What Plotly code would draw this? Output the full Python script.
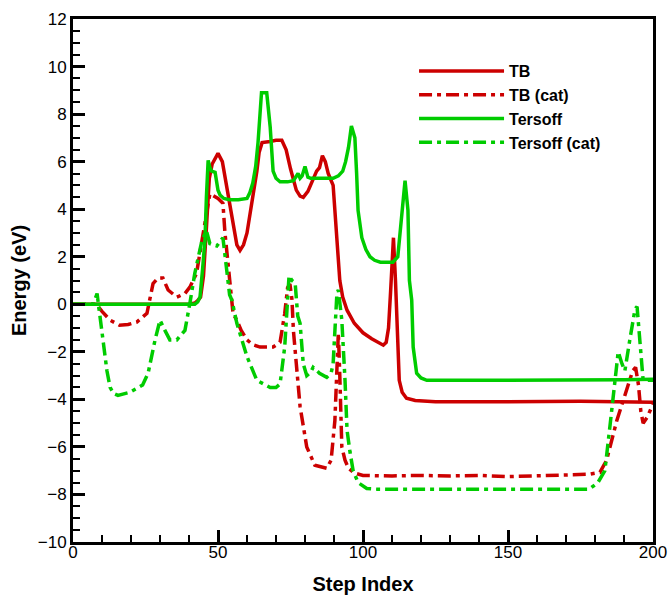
import plotly.graph_objects as go

# ---- data ----
tb_x = [0, 40, 42, 43, 44, 45, 46, 47, 48, 49, 50, 51.5, 53, 55.2, 56.5, 57.6, 58.8, 60, 61.7, 63.4, 64.2, 65.2,
        68, 70, 72, 73.5, 75, 77, 78.3, 79.4, 81, 82.5, 84, 85, 86, 87, 88, 89.7, 90.4, 91, 92, 93, 94.5, 97,
        100, 103, 105, 107, 108, 108.8, 109.5, 110.5, 111.2, 111.8, 112.5, 113.5, 115, 118, 125, 150, 175, 200]
tb_y = [0, 0, 0.05, 0.15, 0.3, 1.2, 3.2, 5.3, 5.9, 6.1, 6.35, 6.0, 4.9, 3.25, 2.5, 2.27, 2.5, 3.0, 4.25, 5.6, 6.4, 6.8,
        6.85, 6.9, 6.9, 6.5, 5.7, 4.8, 4.55, 4.5, 4.75, 5.2, 5.6, 5.75, 6.25, 6.0, 5.5, 5.0, 3.8, 2.4, 1.0, 0.3, -0.25, -0.8,
        -1.2, -1.45, -1.6, -1.72, -1.6, -1.0, 0.5, 2.8, 1.0, -1.5, -3.2, -3.7, -3.95, -4.05, -4.1, -4.1, -4.08, -4.12]

tbc_x = [0, 8, 10, 12.8, 16, 19, 22, 25.5, 27.6, 29.3, 31, 32.8, 35.8, 38.6, 40.3, 42.6, 44.5, 45.5, 47.2, 50, 51.7,
         52.4, 54, 55.2, 56.5, 58, 60, 62, 64.5, 69, 71.4, 73, 74, 74.8, 75.5, 76, 77, 78.3, 80.6, 83.4, 87.5, 89,
         90.3, 91, 91.5, 92, 92.7, 93.8, 95, 97, 100, 110, 120, 130, 140, 150, 160, 170, 178, 181.7, 184, 187.5,
         191, 193, 194, 195, 195.8, 196.6, 198, 199.5, 200]
tbc_y = [0, 0, -0.3, -0.67, -0.88, -0.85, -0.75, -0.38, 0.87, 1.1, 1.1, 0.6, 0.3, 0.45, 0.72, 1.3, 2.7, 3.5, 4.65, 4.45, 4.25,
         3.0, 1.15, -0.4, -0.67, -1.1, -1.5, -1.7, -1.8, -1.8, -1.6, -0.4, 0.7, 0.85, 0.2, -1.1, -2.5, -4.3, -6.0, -6.77, -6.9, -6.56,
         -4.9, -2.5, -1.2, -3.0, -6.0, -6.56, -6.9, -7.1, -7.2, -7.22, -7.2, -7.22, -7.2, -7.25, -7.22, -7.2, -7.15, -7.07, -6.56, -4.9,
         -3.6, -2.8, -2.65, -3.4, -4.5, -5.0, -4.75, -4.3, -4.2]

ts_x = [0, 42, 43, 43.8, 44.7, 45.5, 46, 46.6, 47.2, 47.8, 49, 50, 50.7, 52, 54, 57, 60, 61, 62, 63, 63.8, 64.5, 65,
        66.8, 67.5, 68, 69, 70, 71.4, 74, 76, 77.6, 78.3, 79, 80, 81, 82, 85, 88, 89.7, 91.5, 93, 94, 95, 96, 97.2,
        97.8, 98.3, 99.6, 101, 102.4, 104, 106, 108, 110.3, 112, 113.4, 114.5, 115.5, 116, 116.8, 117.3, 118.5, 120,
        122, 130, 150, 175, 190, 200]
ts_y = [0, 0, 0.1, 0.3, 1.5, 2.7, 4.5, 6.05, 5.75, 5.6, 5.55, 4.8, 4.6, 4.45, 4.4, 4.4, 4.45, 4.7, 5.1, 5.8, 6.8, 8.0, 8.9,
        8.9, 8.2, 7.45, 5.6, 5.3, 5.15, 5.15, 5.2, 5.5, 5.3, 5.4, 5.8, 5.35, 5.3, 5.3, 5.3, 5.3, 5.4, 5.6, 6.0, 6.6, 7.5, 7.0,
        5.5, 3.95, 2.8, 2.3, 2.0, 1.85, 1.77, 1.77, 1.77, 2.0, 3.9, 5.2, 3.95, 1.0, 0.17, -1.8, -2.9, -3.1,
        -3.2, -3.2, -3.2, -3.2, -3.18, -3.15]

tsc_x = [0, 7, 8.3, 9.3, 10.3, 11.7, 12.8, 14, 15.5, 19.6, 24, 25.9, 28.3, 30, 31.7, 33.4, 35.8, 38.6, 40.3, 42, 44.5,
         46, 47.2, 49.6, 51.7, 53, 54, 54.8, 56.5, 60, 63.4, 68, 70, 71.4, 73, 74.5, 75.5, 76.6, 77.5, 78.3, 79.4, 80.6,
         82, 82.8, 85, 87.5, 89, 89.7, 91, 91.5, 92.7, 93.8, 94.5, 95.5, 96.6, 98.3, 101.3, 105, 150, 178, 181, 183.4,
         185, 187, 188, 189.3, 190.3, 192, 193.8, 194.5, 195.5, 196.6, 199, 200]
tsc_y = [0, 0, 0.45, -0.55, -1.6, -2.8, -3.5, -3.75, -3.83, -3.7, -3.4, -2.9, -1.5, -0.67, -1.1, -1.5, -1.5, -1.1, 0.04, 1.3, 2.7,
         3.1, 2.55, 2.45, 2.8, 1.55, 0.4, 0.17, -0.8, -2.2, -3.2, -3.5, -3.5, -3.35, -1.8, 1.2, 1.0, 0.9, -0.5, -0.8, -2.5, -3.0,
         -2.85, -2.65, -2.9, -3.07, -2.9, -2.5, 0.45, 0.6, -0.67, -3.2, -5.3, -6.2, -7.0, -7.5, -7.75, -7.78, -7.78, -7.78, -7.5, -7.0,
         -5.3, -3.07, -2.0, -2.5, -2.8, -1.5, -0.2, -0.1, -1.8, -3.2, -3.2, -3.2]

names = ["TB", "TB (cat)", "Tersoff", "Tersoff (cat)"]
RED = "#cc0000"
GREEN = "#00cc00"
DASHDOT = "13px,5px,4px,5px"

font_family = "Liberation Sans, Arial, Helvetica, sans-serif"

fig = go.Figure()
series = [(tb_x, tb_y, RED, "solid"), (tbc_x, tbc_y, RED, DASHDOT),
          (ts_x, ts_y, GREEN, "solid"), (tsc_x, tsc_y, GREEN, DASHDOT)]
for name, (xs, ys, col, dash) in zip(names, series):
    fig.add_trace(go.Scatter(x=xs, y=ys, mode="lines", name="<b>" + name + "</b>",
                             line=dict(color=col, width=3.5, dash=dash)))

axis_common = dict(showline=True, linecolor="black", linewidth=3, mirror=True,
                   ticks="inside", ticklen=12, tickwidth=3, tickcolor="black",
                   showgrid=False, zeroline=False, automargin=False,
                   tickfont=dict(family=font_family, size=17, color="black"))

fig.update_layout(
    width=669, height=595,
    margin=dict(l=73, r=16, t=19, b=53),
    paper_bgcolor="white", plot_bgcolor="white",
    font=dict(family=font_family, color="black"),
    xaxis=dict(range=[0, 200], dtick=50, tick0=0, ticklabelstandoff=-7,
               minor=dict(ticks="inside", ticklen=7, tickwidth=1.5, tickcolor="black", dtick=10),
               title=dict(text="<b>Step Index</b>", font=dict(size=20, family=font_family), standoff=19),
               **axis_common),
    yaxis=dict(range=[-10, 12], dtick=2, tick0=0,
               minor=dict(ticks="inside", ticklen=7, tickwidth=1.5, tickcolor="black", dtick=0.5),
               title=dict(text="<b>Energy (eV)</b>", font=dict(size=20, family=font_family), standoff=6),
               **axis_common),
    legend=dict(x=0.588, y=0.933, xanchor="left", yanchor="top",
                bgcolor="rgba(0,0,0,0)", borderwidth=0,
                font=dict(family=font_family, size=16, color="black"),
                itemwidth=85, tracegroupgap=0),
    showlegend=True,
)

fig.write_html("out.html")
